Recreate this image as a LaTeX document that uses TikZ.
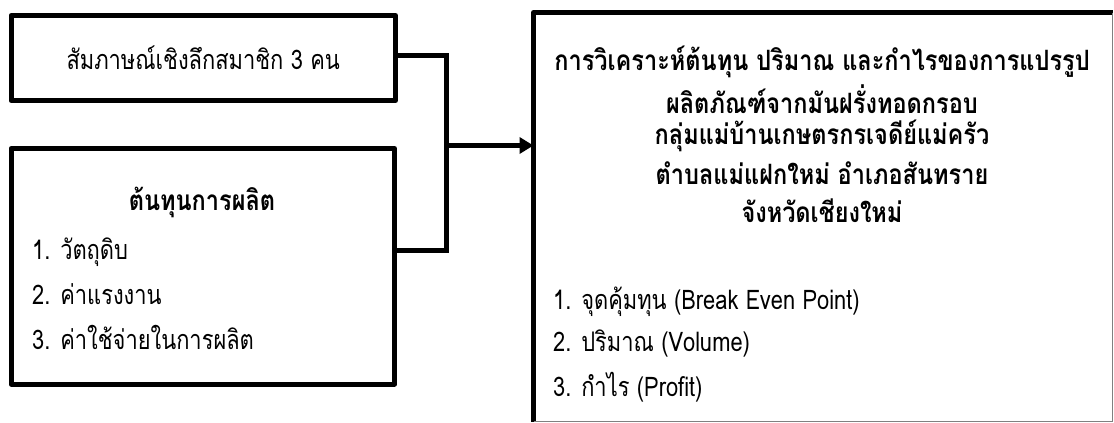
\documentclass[tikz,border=0pt]{standalone}
\usepackage{fontspec}
\setmainfont[Script=Thai]{Loma}
\newfontfamily\thaiplain[Script=Thai, FakeStretch=0.81]{Loma}
\newfontfamily\thaibold[Script=Thai, FakeStretch=0.84]{Loma}
\usetikzlibrary{arrows.meta,calc}
\tikzset{
  boxline/.style={line width=5pt, line join=round, outer sep=0pt},
  conn/.style={line width=5pt},
  plain/.style={font=\thaiplain\fontsize{27}{31}\selectfont, inner sep=0pt},
  heavy/.style={font=\thaibold\fontsize{28}{32}\selectfont\bfseries, inner sep=0pt},
}
\begin{document}
\begin{tikzpicture}[x=1pt,y=-1pt]
\useasboundingbox (0,0) rectangle (1114,423);
% boxes
\node[boxline, draw, minimum width=384.5pt, minimum height=85pt, anchor=north west] (b1) at (11,15.5) {};
\node[boxline, draw, minimum width=383.5pt, minimum height=235.5pt, anchor=north west] (b2) at (11,148.5) {};
\node[minimum width=579pt, minimum height=409pt, anchor=north west, inner sep=0pt, outer sep=0pt] (b3) at (533.5,12.5) {};
\draw[boxline] (b3.south west) -- (b3.north west) -- (b3.north east);
\draw[gray, line width=1pt] (1112.5,12.5) -- (1112.5,421.5) -- (533.5,421.5);
% texts
\node[plain] (t1) at (b1.center) {สัมภาษณ์เชิงลึกสมาชิก 3 คน};
\node[heavy] (t2) at (202,202) {ต้นทุนการผลิต};
\node[plain, anchor=west] (t2a) at (32,252) {1. วัตถุดิบ};
\node[plain, anchor=west] (t2b) at (32,294) {2. ค่าแรงงาน};
\node[plain, anchor=west] (t2c) at (32,337) {3. ค่าใช้จ่ายในการผลิต};
\node[heavy] (h1) at (822,62) {การวิเคราะห์ต้นทุน ปริมาณ และกำไรของการแปรรูป};
\node[heavy] (h2) at (822,99) {ผลิตภัณฑ์จากมันฝรั่งทอดกรอบ};
\node[heavy] (h3) at (822,136) {กลุ่มแม่บ้านเกษตรกรเจดีย์แม่ครัว};
\node[heavy] (h4) at (822,173) {ตำบลแม่แฝกใหม่ อำเภอสันทราย};
\node[heavy] (h5) at (822,211) {จังหวัดเชียงใหม่};
\node[plain, anchor=west] (l1) at (553,302) {1. จุดคุ้มทุน (Break Even Point)};
\node[plain, anchor=west] (l2) at (553,344) {2. ปริมาณ (Volume)};
\node[plain, anchor=west] (l3) at (553,387) {3. กำไร (Profit)};
% connectors
\coordinate (j) at (446.5,145.5);
\coordinate (top) at (446.5,55.5);
\coordinate (bot) at (446.5,250);
\draw[conn, line join=miter] ([yshift=2.5pt]b1.east) -- (top) -- (bot) -- (bot -| b2.east);
\draw[conn, -{Triangle[length=14pt,width=16pt]}] (j) -- (j -| b3.west);
\end{tikzpicture}
\end{document}
